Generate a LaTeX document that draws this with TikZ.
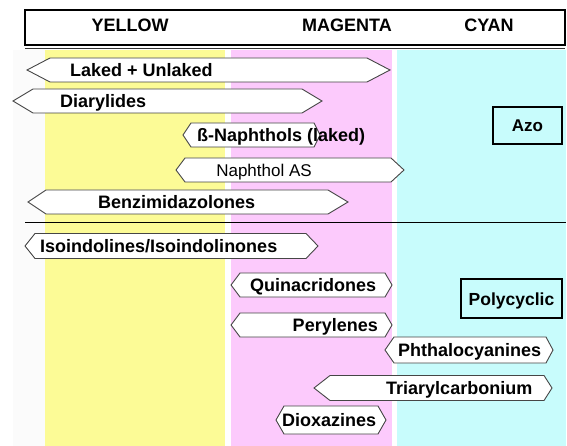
\documentclass[tikz,border=0pt]{standalone}
\usepackage{fontspec}
\setmainfont{Liberation Sans}
\definecolor{ybandc}{RGB}{252,251,150}
\definecolor{mbandc}{RGB}{252,202,252}
\definecolor{cbandc}{RGB}{200,252,252}
\definecolor{faintc}{RGB}{251,251,251}
\definecolor{hexc}{RGB}{70,70,70}
\newcommand{\hexarrow}[6]{%
  \draw[hexline] (#1,#3) -- ({#1+#4},{#3-#6}) -- ({#2-#5},{#3-#6}) -- (#2,#3)
    -- ({#2-#5},{#3+#6}) -- ({#1+#4},{#3+#6}) -- cycle;}
\tikzset{
  hexline/.style={draw=hexc, fill=white, line width=0.9pt},
  lbl/.style={font=\bfseries\fontsize{18}{20}\selectfont, inner sep=0pt},
  lblreg/.style={font=\fontsize{17}{20}\selectfont, inner sep=0pt},
  catbox/.style={draw=black, line width=2.4pt, inner sep=0pt},
}
\begin{document}
\begin{tikzpicture}[x=1pt,y=-1pt]
\useasboundingbox (0,0) rectangle (567,446);
\fill[white] (0,0) rectangle (567,446);
% bands
\fill[faintc] (13,50) rectangle (45,446);
\fill[ybandc] (45,50) rectangle (225,446);
\fill[mbandc] (231,50) rectangle (392,446);
\fill[cbandc] (397,50) rectangle (566,446);
% header
\draw[line width=1.3pt] (25,10) rectangle (565,45);
\draw[line width=0.8pt, draw=black!80] (25,48.3) -- (565,48.3);
\node[lbl, anchor=base] (hy) at (130,32) {YELLOW};
\node[lbl, anchor=base] (hm) at (347,32) {MAGENTA};
\node[lbl, anchor=base] (hc) at (489,32) {CYAN};
% Azo group
\hexarrow{27}{390}{70}{23}{23}{12}
\node[lbl, anchor=base west] (laked) at (70,76.5) {Laked + Unlaked};
\hexarrow{13}{322}{101}{20}{20}{12}
\node[lbl, anchor=base west] (diary) at (60,107.5) {Diarylides};
\hexarrow{183}{320}{135}{8}{6}{12}
\node[lbl, anchor=base west] (naph) at (197,141.5) {ß-Naphthols (laked)};
\hexarrow{176}{404}{170}{9}{13}{12}
\node[lblreg, anchor=base] (nas) at (264,176.5) {Naphthol AS};
\hexarrow{28}{348}{202}{18}{20}{12}
\node[lbl, anchor=base west] (benz) at (98,208.5) {Benzimidazolones};
% separator
\draw[line width=0.9pt] (25,222) -- (566,222);
% Polycyclic group
\hexarrow{25}{318}{246}{10}{12}{12.5}
\node[lbl, anchor=base west] (iso) at (40,252.5) {Isoindolines/Isoindolinones};
\hexarrow{231}{392}{285}{9}{7}{12}
\node[lbl, anchor=base west] (quin) at (250,291.5) {Quinacridones};
\hexarrow{231}{392}{325}{9}{7}{12}
\node[lbl, anchor=base east] (pery) at (378,331.5) {Perylenes};
\hexarrow{385}{553}{350}{9}{7}{13}
\node[lbl, anchor=base west] (phth) at (398,356.5) {Phthalocyanines};
\hexarrow{314}{552}{388}{16}{8}{12.5}
\node[lbl, anchor=base west] (tri) at (386,394.5) {Triarylcarbonium};
\hexarrow{276}{386}{420}{8}{8}{14}
\node[lbl, anchor=base west] (diox) at (282,426.5) {Dioxazines};
% category boxes
\draw[catbox] (493,107) rectangle (562,144);
\node[lbl, font=\bfseries\fontsize{17}{20}\selectfont, anchor=base] (azo) at (527.5,132) {Azo};
\draw[catbox] (461,279) rectangle (562,318);
\node[lbl, font=\bfseries\fontsize{17.5}{20}\selectfont, anchor=base] (poly) at (511.5,305) {Polycyclic};
\end{tikzpicture}
\end{document}
